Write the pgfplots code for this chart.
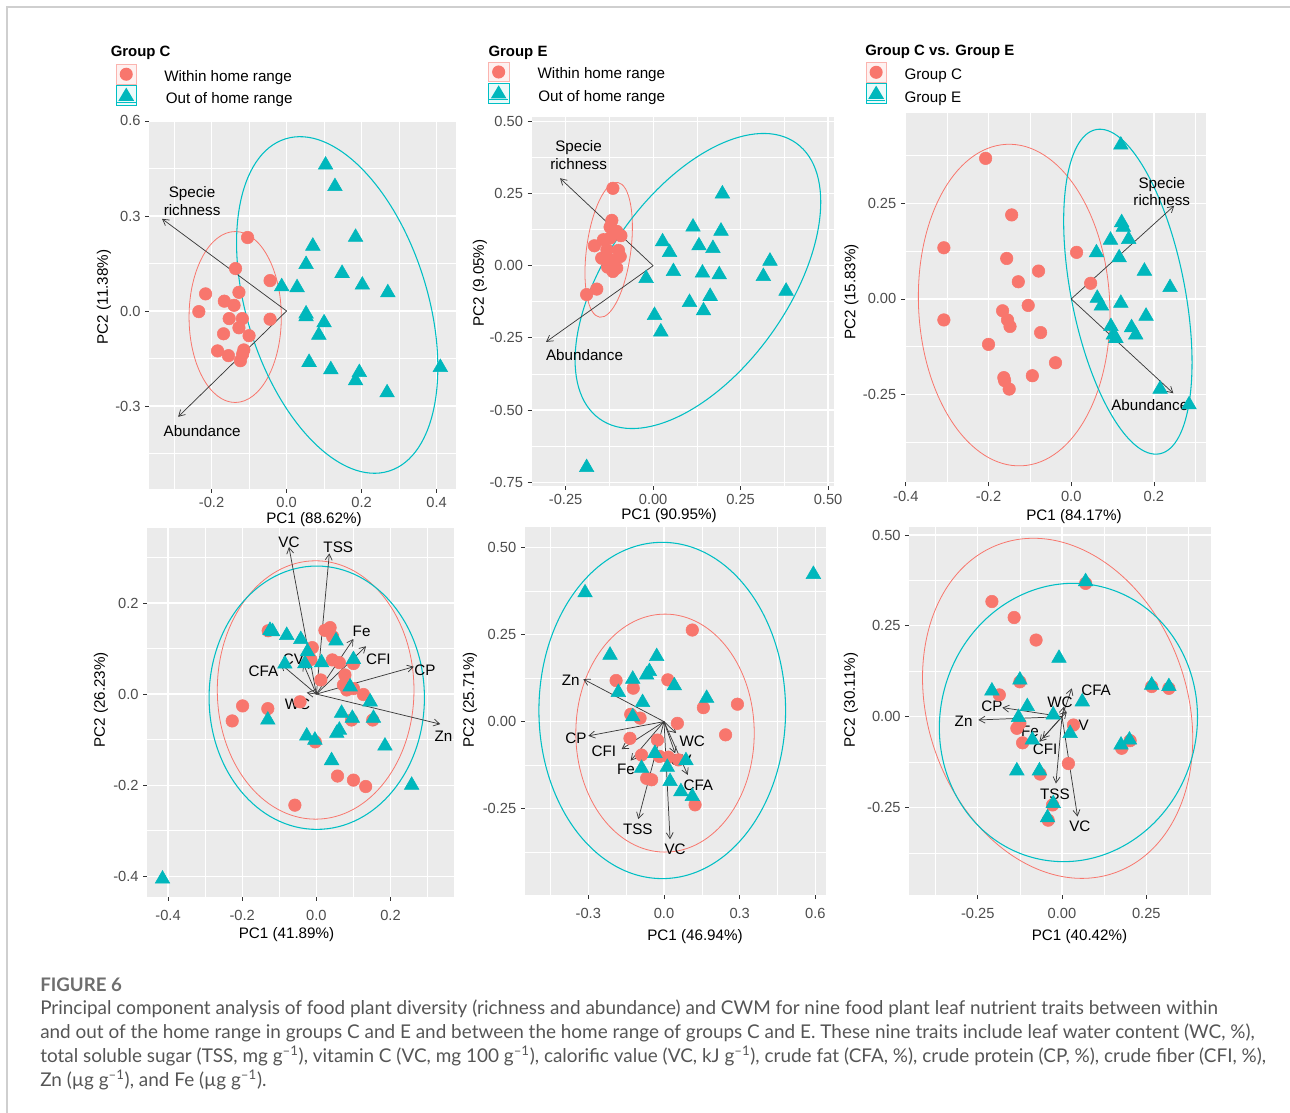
\documentclass[border=0pt]{standalone}
\usepackage{fontspec}
\setmainfont{Liberation Sans}
\newfontfamily\capfont{Lato}
\usepackage{pgfplots}
\pgfplotsset{compat=1.18}
\usetikzlibrary{arrows.meta}

\definecolor{cRed}{HTML}{F8766D}
\definecolor{cCyan}{HTML}{00BFC4}
\definecolor{cTri}{HTML}{00B7BC}
\definecolor{panelbg}{HTML}{EBEBEB}
\definecolor{tickc}{HTML}{333333}
\definecolor{ticktext}{HTML}{4D4D4D}
\definecolor{arrc}{HTML}{3A3A3A}
\definecolor{framec}{HTML}{CFCFCF}
\definecolor{captext}{HTML}{555555}
\definecolor{capfig}{HTML}{6E6E6E}

\newcommand\ticksize{\fontsize{11}{12.5}\selectfont}
\newcommand\labsize{\fontsize{11.4}{13.3}\selectfont}
\newcommand\capsize{\fontsize{14.2}{17}\selectfont}

\pgfplotsset{
  pca/.style={
    scale only axis, anchor=north west, clip=false,
    axis background/.style={fill=panelbg},
    axis line style={draw=none},
    tick align=outside, tick pos=left,
    major tick length=3pt, minor tick length=0pt,
    major tick style={tickc, line width=0.6pt},
    grid=both,
    major grid style={white, line width=0.9pt},
    minor grid style={white, line width=0.45pt},
    tick label style={font=\ticksize, text=ticktext},
  },
  lowrow/.style={xticklabel style={yshift=-3.75pt}},
  inC/.style={only marks, mark=*, mark size=4.7pt, color=cRed,
    mark options={draw=none, fill=cRed}},
  outE/.style={only marks, mark=triangle*, mark size=6.3pt, color=cTri,
    mark options={draw=none, fill=cTri}},
  vec/.style={arrc, line width=0.55pt, mark=none,
    -{Straight Barb[length=4.5pt, width=5.2pt]}},
}
\tikzset{
  ellR/.style={draw=cRed, line width=0.6pt},
  ellB/.style={draw=cCyan, line width=0.8pt},
  vlab/.style={font=\labsize, text=black, inner sep=0pt, align=center},
}

\begin{document}
\begin{tikzpicture}
\useasboundingbox (0pt,0pt) rectangle (967.5pt,-834.75pt);

% ---------------- Group C: within vs. out of home range ----------------
\begin{axis}[pca, at={(111.98pt,-90pt)}, width=229.8pt, height=276.75pt,
  xmin=-0.366, xmax=0.451, ymin=-0.562, ymax=0.603,
  xtick={-0.2,0,0.2,0.4}, xticklabels={-0.2,0.0,0.2,0.4},
  ytick={-0.3,0,0.3,0.6}, yticklabels={-0.3,0.0,0.3,0.6},
  minor xtick={-0.3,-0.1,0.1,0.3}, minor ytick={-0.45,-0.15,0.15,0.45}]
\addplot[inC] coordinates {(-0.104,0.232) (-0.136,0.134) (-0.044,0.096) (-0.216,0.054)
  (-0.166,0.031) (-0.127,0.059) (-0.140,0.018) (-0.234,-0.002) (-0.153,-0.024)
  (-0.118,-0.024) (-0.044,-0.026) (-0.127,-0.053) (-0.168,-0.072) (-0.100,-0.078)
  (-0.184,-0.126) (-0.155,-0.141) (-0.117,-0.136) (-0.123,-0.157) (-0.114,-0.123)};
\addplot[outE] coordinates {(0.104,0.461) (0.129,0.393) (0.184,0.233) (0.070,0.205)
  (0.052,0.147) (0.148,0.119) (-0.013,0.077) (0.028,0.074) (0.202,0.082) (0.270,0.058)
  (0.052,-0.009) (0.052,-0.018) (0.100,-0.037) (0.086,-0.076) (0.060,-0.162)
  (0.118,-0.185) (0.194,-0.194) (0.184,-0.220) (0.268,-0.258) (0.410,-0.178)};
\draw[ellR] (axis cs:-0.137,-0.019) ellipse [x radius=34.6pt, y radius=64.1pt];
\draw[ellB, rotate around={107.3:(axis cs:0.135,0.019)}] (axis cs:0.135,0.019)
  ellipse [x radius=130.5pt, y radius=67.8pt];
\addplot[vec] coordinates {(0,0) (-0.332,0.291)};
\addplot[vec] coordinates {(0,0) (-0.289,-0.334)};
\node[vlab] at (axis cs:-0.252,0.348) {Specie\\richness};
\node[vlab] at (axis cs:-0.225,-0.378) {Abundance};
\end{axis}

% ---------------- Group E: within vs. out of home range ----------------
\begin{axis}[pca, at={(398.78pt,-87.98pt)}, width=226.73pt, height=276.5pt,
  xmin=-0.347, xmax=0.517, ymin=-0.763, ymax=0.514,
  xtick={-0.25,0,0.25,0.5}, xticklabels={-0.25,0.00,0.25,0.50},
  ytick={-0.75,-0.5,-0.25,0,0.25,0.5}, yticklabels={-0.75,-0.50,-0.25,0.00,0.25,0.50},
  minor xtick={-0.125,0.125,0.375}, minor ytick={-0.625,-0.375,-0.125,0.125,0.375}]
\addplot[inC] coordinates {(-0.115,0.268) (-0.118,0.157) (-0.123,0.134) (-0.104,0.119)
  (-0.092,0.104) (-0.142,0.090) (-0.168,0.069) (-0.123,0.096) (-0.147,0.026)
  (-0.123,0.021) (-0.094,0.032) (-0.113,0.009) (-0.130,-0.005) (-0.104,-0.008)
  (-0.115,-0.020) (-0.161,-0.081) (-0.190,-0.100) (-0.099,0.053) (-0.132,0.055)};
\addplot[outE] coordinates {(0.198,0.249) (0.114,0.134) (0.194,0.120) (0.027,0.083)
  (0.131,0.069) (0.171,0.060) (0.047,0.046) (0.334,0.016) (0.058,-0.020) (0.141,-0.025)
  (0.189,-0.031) (0.315,-0.037) (-0.020,-0.044) (0.380,-0.088) (0.163,-0.106)
  (0.104,-0.127) (0.144,-0.156) (0.004,-0.172) (0.022,-0.229) (-0.190,-0.699)};
\draw[ellR, rotate around={82.4:(axis cs:-0.127,0.055)}] (axis cs:-0.127,0.055)
  ellipse [x radius=51.0pt, y radius=16.6pt];
\draw[ellB, rotate around={54.5:(axis cs:0.128,-0.053)}] (axis cs:0.128,-0.053)
  ellipse [x radius=127.0pt, y radius=67.8pt];
\addplot[vec] coordinates {(0,0) (-0.266,0.303)};
\addplot[vec] coordinates {(0,0) (-0.306,-0.264)};
\node[vlab] at (axis cs:-0.213,0.384) {Specie\\richness};
\node[vlab] at (axis cs:-0.196,-0.308) {Abundance};
\end{axis}

% ---------------- Group C vs. Group E ----------------
\begin{axis}[pca, at={(678.75pt,-84.98pt)}, width=225.75pt, height=276.75pt,
  xmin=-0.402, xmax=0.326, ymin=-0.480, ymax=0.486,
  xtick={-0.4,-0.2,0,0.2}, xticklabels={-0.4,-0.2,0.0,0.2},
  ytick={-0.25,0,0.25}, yticklabels={-0.25,0.00,0.25},
  minor xtick={-0.3,-0.1,0.1,0.3}, minor ytick={-0.375,-0.125,0.125,0.375}]
\addplot[inC] coordinates {(-0.207,0.368) (-0.144,0.220) (-0.308,0.134) (0.013,0.122)
  (-0.156,0.106) (-0.079,0.073) (-0.128,0.045) (0.047,0.041) (-0.104,-0.017)
  (-0.166,-0.031) (-0.308,-0.055) (-0.154,-0.055) (-0.148,-0.072) (-0.074,-0.088)
  (-0.200,-0.119) (-0.038,-0.167) (-0.163,-0.206) (-0.094,-0.201) (-0.150,-0.236)
  (-0.161,-0.214)};
\addplot[outE] coordinates {(0.120,0.403) (0.122,0.200) (0.126,0.188) (0.095,0.154)
  (0.139,0.156) (0.061,0.121) (0.116,0.108) (0.177,0.073) (0.239,0.030) (0.063,0.002)
  (0.073,-0.018) (0.120,-0.011) (0.181,-0.045) (0.096,-0.072) (0.146,-0.075)
  (0.102,-0.094) (0.156,-0.094) (0.108,-0.103) (0.215,-0.236) (0.285,-0.277)};
\draw[ellR, rotate around={92.75:(axis cs:-0.138,-0.016)}] (axis cs:-0.138,-0.016)
  ellipse [x radius=120.7pt, y radius=71.7pt];
\draw[ellB, rotate around={101.1:(axis cs:0.137,0.019)}] (axis cs:0.137,0.019)
  ellipse [x radius=123.9pt, y radius=42.6pt];
\addplot[vec] coordinates {(0,0) (0.249,0.244)};
\addplot[vec] coordinates {(0,0) (0.247,-0.247)};
\node[vlab] at (axis cs:0.219,0.281) {Specie\\richness};
\node[vlab] at (axis cs:0.190,-0.277) {Abundance};
\end{axis}

% ---------------- Group C: nutrient traits ----------------
\begin{axis}[pca, lowrow, at={(110.48pt,-396.23pt)}, width=230.25pt, height=276.3pt,
  xmin=-0.456, xmax=0.372, ymin=-0.445, ymax=0.364,
  xtick={-0.4,-0.2,0,0.2}, xticklabels={-0.4,-0.2,0.0,0.2},
  ytick={-0.4,-0.2,0,0.2}, yticklabels={-0.4,-0.2,0.0,0.2},
  minor xtick={-0.3,-0.1,0.1,0.3}, minor ytick={-0.3,-0.1,0.1,0.3}]
\addplot[inC] coordinates {(0.037,0.146) (0.023,0.140) (0.044,0.126) (-0.011,0.102)
  (-0.130,0.139) (0.100,0.067) (0.043,0.075) (0.062,0.069) (-0.015,0.076) (0.077,0.042)
  (0.012,0.031) (0.073,0.020) (0.100,0.012) (0.127,-0.001) (-0.044,-0.017)
  (-0.199,-0.026) (-0.131,-0.032) (-0.227,-0.059) (0.095,-0.057) (0.152,-0.057)
  (-0.003,-0.105) (0.057,-0.180) (0.100,-0.189) (0.133,-0.203) (-0.058,-0.244)
  (0.082,0.009)};
\addplot[outE] coordinates {(-0.125,0.140) (-0.118,0.137) (-0.080,0.129) (-0.042,0.120)
  (0.053,0.117) (-0.024,0.093) (0.014,0.069) (-0.085,0.066) (-0.031,0.067) (0.100,0.076)
  (0.091,0.016) (0.145,-0.017) (0.068,-0.042) (0.097,-0.053) (0.154,-0.053)
  (-0.131,-0.057) (0.062,-0.079) (0.055,-0.086) (-0.026,-0.092) (-0.004,-0.101)
  (0.185,-0.114) (0.041,-0.146) (0.257,-0.200) (-0.415,-0.406)};
\draw[ellR] (axis cs:-0.002,0.009) ellipse [x radius=73.75pt, y radius=96.9pt];
\draw[ellB] (axis cs:0.001,-0.008) ellipse [x radius=80.75pt, y radius=98.75pt];
\addplot[vec] coordinates {(0,0) (-0.074,0.323)};
\addplot[vec] coordinates {(0,0) (0.035,0.309)};
\addplot[vec] coordinates {(0,0) (0.100,0.121)};
\addplot[vec] coordinates {(0,0) (0.134,0.105)};
\addplot[vec] coordinates {(0,0) (0.263,0.060)};
\addplot[vec] coordinates {(0,0) (0.334,-0.066)};
\addplot[vec] coordinates {(0,0) (-0.096,0.066)};
\addplot[vec] coordinates {(0,0) (-0.035,0.066)};
\addplot[vec] coordinates {(0,0) (-0.026,0.003)};
\node[vlab] at (axis cs:-0.074,0.334) {VC};
\node[vlab] at (axis cs:0.059,0.323) {TSS};
\node[vlab] at (axis cs:0.122,0.137) {Fe};
\node[vlab] at (axis cs:0.167,0.076) {CFI};
\node[vlab] at (axis cs:0.293,0.053) {CP};
\node[vlab] at (axis cs:0.343,-0.092) {Zn};
\node[vlab] at (axis cs:-0.143,0.049) {CFA};
\node[vlab] at (axis cs:-0.062,0.076) {CV};
\node[vlab] at (axis cs:-0.051,-0.022) {WC};
\end{axis}

% ---------------- Group E: nutrient traits ----------------
\begin{axis}[pca, lowrow, at={(393.75pt,-395.48pt)}, width=225.75pt, height=275.78pt,
  xmin=-0.551, xmax=0.642, ymin=-0.498, ymax=0.558,
  xtick={-0.3,0,0.3,0.6}, xticklabels={-0.3,0.0,0.3,0.6},
  ytick={-0.25,0,0.25,0.5}, yticklabels={-0.25,0.00,0.25,0.50},
  minor xtick={-0.45,-0.15,0.15,0.45}, minor ytick={-0.375,-0.125,0.125,0.375}]
\addplot[inC] coordinates {(0.112,0.263) (-0.190,0.118) (-0.122,0.096) (0.015,0.120)
  (0.156,0.040) (0.291,0.050) (-0.132,0.021) (-0.095,0.010) (0.053,-0.005)
  (0.244,-0.038) (-0.135,-0.048) (-0.026,-0.053) (-0.089,-0.096) (-0.018,-0.100)
  (0.017,-0.102) (-0.069,-0.163) (-0.049,-0.167) (0.123,-0.239) (0.057,-0.110)};
\addplot[outE] coordinates {(0.592,0.423) (-0.313,0.370) (-0.214,0.191) (-0.029,0.187)
  (-0.124,0.122) (-0.069,0.134) (-0.058,0.144) (0.041,0.103) (0.169,0.067)
  (-0.181,0.084) (-0.085,0.055) (-0.124,0.014) (-0.036,-0.091) (-0.089,-0.134)
  (0.013,-0.131) (0.087,-0.112) (0.024,-0.172) (0.067,-0.201) (0.112,-0.215)};
\draw[ellR] (axis cs:0.004,-0.033) ellipse [x radius=66.9pt, y radius=89.25pt];
\draw[ellB] (axis cs:-0.007,0.032) ellipse [x radius=92.5pt, y radius=126.1pt];
\addplot[vec] coordinates {(0,0) (-0.320,0.122)};
\addplot[vec] coordinates {(0,0) (-0.300,-0.041)};
\addplot[vec] coordinates {(0,0) (-0.168,-0.079)};
\addplot[vec] coordinates {(0,0) (-0.132,-0.112)};
\addplot[vec] coordinates {(0,0) (-0.102,-0.280)};
\addplot[vec] coordinates {(0,0) (0.024,-0.338)};
\addplot[vec] coordinates {(0,0) (0.048,-0.033)};
\addplot[vec] coordinates {(0,0) (0.044,-0.091)};
\addplot[vec] coordinates {(0,0) (0.094,-0.153)};
\node[vlab] at (axis cs:-0.370,0.120) {Zn};
\node[vlab] at (axis cs:-0.349,-0.048) {CP};
\node[vlab] at (axis cs:-0.238,-0.086) {CFI};
\node[vlab] at (axis cs:-0.151,-0.137) {Fe};
\node[vlab] at (axis cs:-0.104,-0.309) {TSS};
\node[vlab] at (axis cs:0.044,-0.367) {VC};
\node[vlab] at (axis cs:0.112,-0.056) {WC};
\node[vlab] at (axis cs:0.067,-0.112) {CV};
\node[vlab] at (axis cs:0.136,-0.182) {CFA};
\end{axis}

% ---------------- Group C vs. Group E: nutrient traits ----------------
\begin{axis}[pca, lowrow, at={(681.98pt,-395.03pt)}, width=226.28pt, height=276.23pt,
  xmin=-0.453, xmax=0.442, ymin=-0.491, ymax=0.523,
  xtick={-0.25,0,0.25}, xticklabels={-0.25,0.00,0.25},
  ytick={-0.25,0,0.25,0.5}, yticklabels={-0.25,0.00,0.25,0.50},
  minor xtick={-0.375,-0.125,0.125,0.375}, minor ytick={-0.375,-0.125,0.125,0.375}]
\addplot[inC] coordinates {(-0.208,0.317) (-0.142,0.273) (-0.077,0.211) (-0.186,0.060)
  (0.070,0.367) (-0.125,0.096) (-0.134,-0.032) (-0.117,-0.072) (0.019,-0.129)
  (0.034,-0.023) (-0.065,-0.158) (-0.041,-0.285) (-0.028,-0.243) (0.177,-0.087)
  (0.202,-0.066) (0.266,0.083) (0.317,0.078) (-0.125,-0.018)};
\addplot[outE] coordinates {(0.070,0.372) (-0.009,0.161) (-0.125,0.101) (-0.208,0.071)
  (0.060,0.041) (-0.103,0.028) (-0.129,-0.002) (-0.026,0.005) (-0.088,-0.064)
  (0.024,-0.046) (-0.134,-0.149) (-0.067,-0.149) (-0.026,-0.239) (-0.043,-0.278)
  (0.175,-0.078) (0.200,-0.064) (0.266,0.087) (0.317,0.083)};
\draw[ellR, rotate around={108.9:(axis cs:-0.013,0.023)}] (axis cs:-0.013,0.023)
  ellipse [x radius=130.6pt, y radius=97.3pt];
\draw[ellB, rotate around={76.5:(axis cs:0.019,-0.016)}] (axis cs:0.019,-0.016)
  ellipse [x radius=104.8pt, y radius=96.3pt];
\addplot[vec] coordinates {(0,0) (-0.177,0.025)};
\addplot[vec] coordinates {(0,0) (-0.248,-0.009)};
\addplot[vec] coordinates {(0,0) (-0.058,-0.060)};
\addplot[vec] coordinates {(0,0) (-0.067,-0.069)};
\addplot[vec] coordinates {(0,0) (-0.018,-0.184)};
\addplot[vec] coordinates {(0,0) (0.046,-0.275)};
\addplot[vec] coordinates {(0,0) (0.029,0.078)};
\addplot[vec] coordinates {(0,0) (0.006,0.028)};
\addplot[vec] coordinates {(0,0) (0.014,0.014)};
\node[vlab] at (axis cs:-0.208,0.029) {CP};
\node[vlab] at (axis cs:-0.292,-0.014) {Zn};
\node[vlab] at (axis cs:-0.095,-0.041) {Fe};
\node[vlab] at (axis cs:-0.050,-0.090) {CFI};
\node[vlab] at (axis cs:-0.021,-0.213) {TSS};
\node[vlab] at (axis cs:0.053,-0.301) {VC};
\node[vlab] at (axis cs:0.101,0.072) {CFA};
\node[vlab] at (axis cs:-0.006,0.041) {WC};
\node[vlab] at (axis cs:0.048,-0.023) {CV};
\end{axis}

% ---------------- titles, legends, caption (pixel grid) ----------------
\begin{scope}[x=0.75pt, y=-0.75pt]
  % frame of the figure panel
  \draw[framec, line width=0.9pt] (7,1113) -- (7,7) -- (1290,7);

  % axis titles
  \begin{scope}[every node/.style={font=\labsize, text=black, inner sep=0pt}]
    \node at (314,520) {PC1 (88.62\%)};
    \node[rotate=90] at (104,297) {PC2 (11.38\%)};
    \node at (669,515.5) {PC1 (90.95\%)};
    \node[rotate=90] at (480,283) {PC2 (9.05\%)};
    \node at (1074,516.5) {PC1 (84.17\%)};
    \node[rotate=90] at (851.5,292) {PC2 (15.83\%)};
    \node at (286.5,935) {PC1 (41.89\%)};
    \node[rotate=90] at (101,700) {PC2 (26.23\%)};
    \node at (695,937) {PC1 (46.94\%)};
    \node[rotate=90] at (470,700) {PC2 (25.71\%)};
    \node at (1079.5,937) {PC1 (40.42\%)};
    \node[rotate=90] at (851,700) {PC2 (30.11\%)};
  \end{scope}

  % legends
  \begin{scope}[every node/.style={font=\labsize, text=black, inner sep=0pt, anchor=west}]
    \node[font=\fontsize{11.2}{13}\selectfont\bfseries] at (110.5,53.3) {Group C};
    \draw[draw=cRed!55, fill=cRed!10, line width=0.6pt] (116,64.5) rectangle (136.5,84);
    \fill[cRed] (126.25,74.25) circle (4.9pt);
    \draw[draw=cCyan, fill=cCyan!8, line width=0.6pt] (116,85.5) rectangle (136.5,105.5);
    \draw[cCyan, line width=0.8pt] (117,102.3) -- (135.5,102.3);
    \fill[cTri] (126.25,87.6) -- (134.1,100.8) -- (118.4,100.8) -- cycle;
    \node at (164,77.8) {Within home range};
    \node at (165.5,100) {Out of home range};

    \node[font=\fontsize{11.2}{13}\selectfont\bfseries] at (488.3,53.3) {Group E};
    \draw[draw=cRed!55, fill=cRed!10, line width=0.6pt] (488.3,62.3) rectangle (509,81.8);
    \fill[cRed] (498.65,72) circle (4.9pt);
    \draw[draw=cCyan, fill=cCyan!8, line width=0.6pt] (488.3,83.3) rectangle (509,103);
    \draw[cCyan, line width=0.8pt] (489.3,99.8) -- (508,99.8);
    \fill[cTri] (498.65,85.3) -- (506.5,98.5) -- (490.8,98.5) -- cycle;
    \node at (537.3,75) {Within home range};
    \node at (538,97.7) {Out of home range};

    \node[font=\fontsize{11.2}{13}\selectfont\bfseries] at (865,51.7) {Group C vs. Group E};
    \draw[draw=cRed!55, fill=cRed!10, line width=0.6pt] (866,62.3) rectangle (886.3,82.3);
    \fill[cRed] (876.15,72.3) circle (4.9pt);
    \draw[draw=cCyan, fill=cCyan!8, line width=0.6pt] (866,83.5) rectangle (886.3,103.3);
    \draw[cCyan, line width=0.8pt] (867,100.1) -- (885.3,100.1);
    \fill[cTri] (876.15,85.6) -- (884,98.8) -- (868.3,98.8) -- cycle;
    \node at (904.3,75.7) {Group C};
    \node at (904.3,99) {Group E};
  \end{scope}

  % caption
  \begin{scope}[every node/.style={inner sep=0pt, anchor=base west, text=captext,
      font=\capfont\capsize}]
    \node[text=capfig, font=\capfont\bfseries\fontsize{14}{16}\selectfont] at (40,991.5) {FIGURE 6};
    \node at (40,1014.5) {Principal component analysis of food plant diversity (richness and abundance) and CWM for nine food plant leaf nutrient traits between within};
    \node at (40,1038.5) {and out of the home range in groups C and E and between the home range of groups C and E. These nine traits include leaf water content (WC, \%),};
    \node at (40,1062.5) {total soluble sugar (TSS, mg g\textsuperscript{–1}), vitamin C (VC, mg 100 g\textsuperscript{–1}), calorific value (VC, kJ g\textsuperscript{–1}), crude fat (CFA, \%), crude protein (CP, \%), crude fiber (CFI, \%),};
    \node at (40,1086.5) {Zn (µg g\textsuperscript{–1}), and Fe (µg g\textsuperscript{–1}).};
  \end{scope}
\end{scope}
\end{tikzpicture}
\end{document}
